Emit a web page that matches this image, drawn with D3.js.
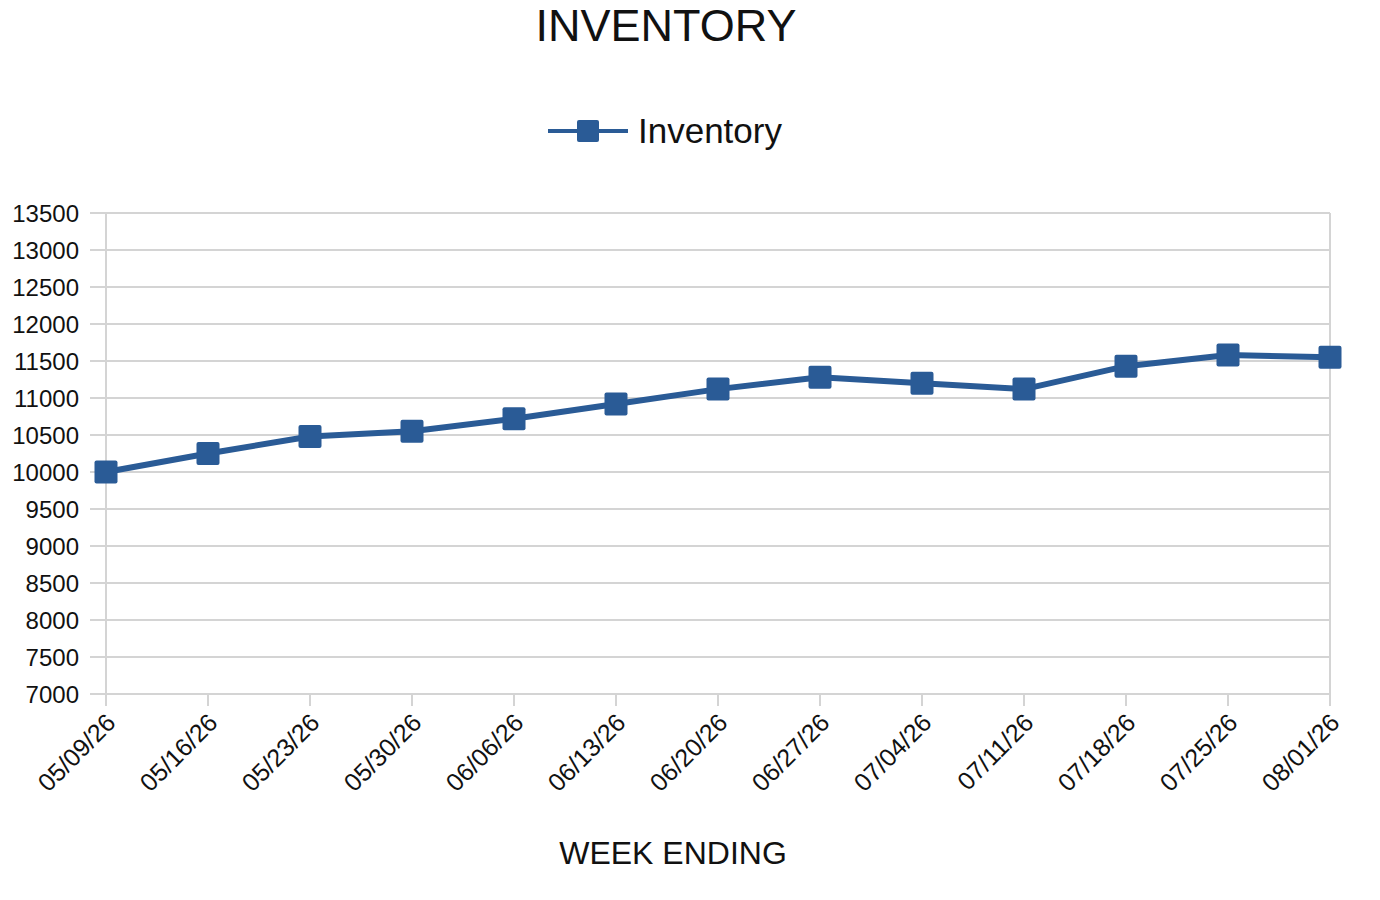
<!DOCTYPE html>
<html lang="en">
<head>
  <meta charset="UTF-8">
  <title>Inventory</title>
  <script src="https://cdn.jsdelivr.net/npm/d3@7"></script>
  <style>
    body { margin: 0; background: #fff; }
    text { font-family: "Liberation Sans", Arial, sans-serif; fill: #111; }
  </style>
</head>
<body>
  <svg width="1380" height="900"></svg>
  <script>
    // data
    let weeks = ['05/09/26', '05/16/26', '05/23/26', '05/30/26', '06/06/26', '06/13/26', '06/20/26',
                 '06/27/26', '07/04/26', '07/11/26', '07/18/26', '07/25/26', '08/01/26'];
    let inventory = [10000, 10250, 10480, 10550, 10720, 10920, 11120, 11280, 11200, 11120, 11430, 11580, 11550];
    let yTicks = d3.range(7000, 13501, 500);

    let svg = d3.select('svg');
    let plotLeft = 106, plotRight = 1330, plotTop = 213, plotBottom = 694;
    let color = '#2a5b96';
    let grid = '#d4d4d4';

    let x = d3.scalePoint().domain(weeks).range([plotLeft, plotRight]);
    let y = d3.scaleLinear().domain([7000, 13500]).range([plotBottom, plotTop]);

    // horizontal grid
    svg.append('g')
      .selectAll('line')
      .data(yTicks)
      .join('line')
      .attr('x1', plotLeft - 16)
      .attr('x2', plotRight)
      .attr('y1', d => y(d))
      .attr('y2', d => y(d))
      .attr('stroke', grid)
      .attr('stroke-width', 2);

    // y labels
    svg.append('g')
      .selectAll('text')
      .data(yTicks)
      .join('text')
      .attr('x', 79)
      .attr('y', d => y(d))
      .attr('dy', '0.36em')
      .attr('text-anchor', 'end')
      .style('font-size', '24px')
      .text(d => d);

    // left axis + right border
    svg.append('line')
      .attr('x1', plotLeft).attr('x2', plotLeft)
      .attr('y1', plotTop).attr('y2', plotBottom + 12)
      .attr('stroke', grid).attr('stroke-width', 2);
    svg.append('line')
      .attr('x1', plotRight).attr('x2', plotRight)
      .attr('y1', plotTop).attr('y2', plotBottom + 12)
      .attr('stroke', grid).attr('stroke-width', 2);

    // x ticks
    svg.append('g')
      .selectAll('line')
      .data(weeks)
      .join('line')
      .attr('x1', d => x(d))
      .attr('x2', d => x(d))
      .attr('y1', plotBottom)
      .attr('y2', plotBottom + 12)
      .attr('stroke', grid)
      .attr('stroke-width', 2);

    // x labels
    svg.append('g')
      .selectAll('text')
      .data(weeks)
      .join('text')
      .attr('text-anchor', 'end')
      .attr('transform', d => `translate(${x(d) + 5},${plotBottom + 24}) rotate(-45)`)
      .attr('dy', '0.35em')
      .style('font-size', '25px')
      .text(d => d);

    // line
    let line = d3.line()
      .x((d, i) => x(weeks[i]))
      .y(d => y(d));
    svg.append('path')
      .datum(inventory)
      .attr('d', line)
      .attr('fill', 'none')
      .attr('stroke', color)
      .attr('stroke-width', 6)
      .attr('stroke-linejoin', 'round');

    // markers
    let s = 23;
    svg.append('g')
      .selectAll('rect')
      .data(inventory)
      .join('rect')
      .attr('x', (d, i) => x(weeks[i]) - s / 2)
      .attr('y', d => y(d) - s / 2)
      .attr('width', s)
      .attr('height', s)
      .attr('rx', 2)
      .attr('fill', color);

    // title
    svg.append('text')
      .attr('x', 666)
      .attr('y', 41)
      .attr('text-anchor', 'middle')
      .style('font-size', '45px')
      .text('INVENTORY');

    // legend
    let lg = svg.append('g');
    lg.append('line')
      .attr('x1', 548).attr('x2', 628)
      .attr('y1', 131).attr('y2', 131)
      .attr('stroke', color).attr('stroke-width', 4);
    lg.append('rect')
      .attr('x', 577).attr('y', 120)
      .attr('width', 22).attr('height', 22)
      .attr('rx', 2)
      .attr('fill', color);
    lg.append('text')
      .attr('x', 638)
      .attr('y', 143)
      .style('font-size', '35px')
      .text('Inventory');

    // x axis title
    svg.append('text')
      .attr('x', 673)
      .attr('y', 864)
      .attr('text-anchor', 'middle')
      .style('font-size', '32px')
      .text('WEEK ENDING');
  </script>
</body>
</html>
